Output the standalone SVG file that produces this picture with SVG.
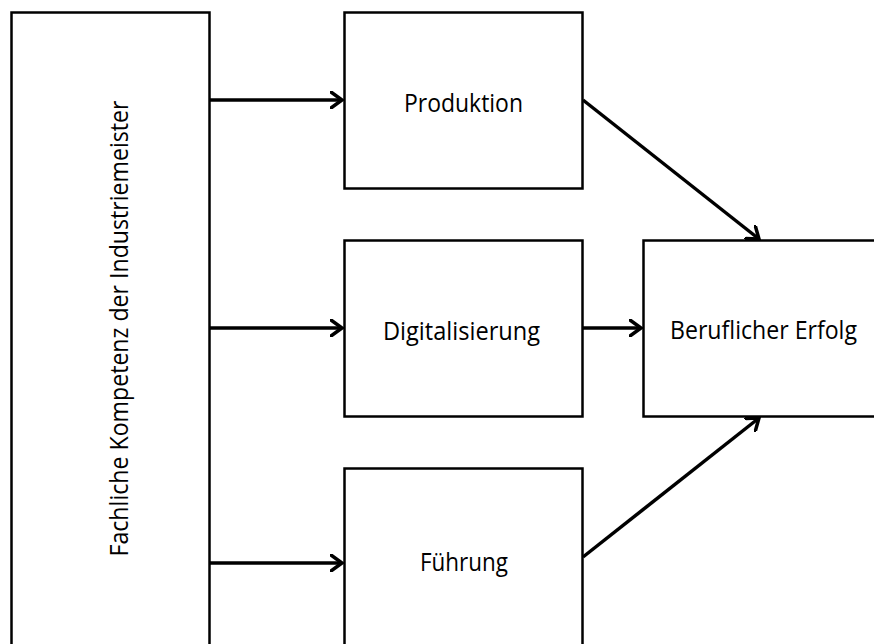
<svg xmlns="http://www.w3.org/2000/svg" width="874" height="644" viewBox="0 0 874 644">
  <style>
    .box { fill: #ffffff; stroke: #000000; stroke-width: 2.5; }
    .label { font-family: "Open Sans", "Liberation Sans", sans-serif; font-size: 25px; fill: #000000; text-anchor: middle; }
    .conn { stroke: #000000; stroke-width: 3.5; fill: none; marker-end: url(#chevron); }
  </style>
  <defs>
    <marker id="chevron" viewBox="0 0 14 18" refX="12" refY="9" markerWidth="14" markerHeight="18" markerUnits="userSpaceOnUse" orient="auto">
      <path d="M1,1 L12,9 L1,17" fill="none" stroke="#000000" stroke-width="3.5" stroke-linecap="round" stroke-linejoin="miter"/>
    </marker>
  </defs>
  <rect width="874" height="644" fill="#ffffff"/>

  <g id="node-kompetenz">
    <rect class="box" x="11.5" y="12.5" width="198" height="700"/>
    <text class="label" transform="translate(128,328.5) rotate(-90)" textLength="456" lengthAdjust="spacingAndGlyphs">Fachliche Kompetenz der Industriemeister</text>
  </g>

  <g id="node-produktion">
    <rect class="box" x="344.5" y="12.5" width="238" height="176"/>
    <text class="label" x="463.5" y="112" textLength="119" lengthAdjust="spacingAndGlyphs">Produktion</text>
  </g>

  <g id="node-digitalisierung">
    <rect class="box" x="344.5" y="240.5" width="238" height="176"/>
    <text class="label" x="461.5" y="340" textLength="157" lengthAdjust="spacingAndGlyphs">Digitalisierung</text>
  </g>

  <g id="node-fuehrung">
    <rect class="box" x="344.5" y="468.5" width="238" height="300"/>
    <text class="label" x="464" y="571" textLength="88" lengthAdjust="spacingAndGlyphs">Führung</text>
  </g>

  <g id="node-erfolg">
    <rect class="box" x="643.5" y="240.5" width="260" height="176"/>
    <text class="label" x="763.5" y="339" textLength="187" lengthAdjust="spacingAndGlyphs">Beruflicher Erfolg</text>
  </g>

  <g id="connectors">
    <line class="conn" x1="210" y1="100" x2="342" y2="100"/>
    <line class="conn" x1="210" y1="328" x2="342" y2="328"/>
    <line class="conn" x1="210" y1="563" x2="342" y2="563"/>
    <line class="conn" x1="583" y1="328" x2="641" y2="328"/>
    <line class="conn" x1="583" y1="100" x2="759" y2="239"/>
    <line class="conn" x1="583" y1="557" x2="759" y2="418"/>
  </g>
</svg>
